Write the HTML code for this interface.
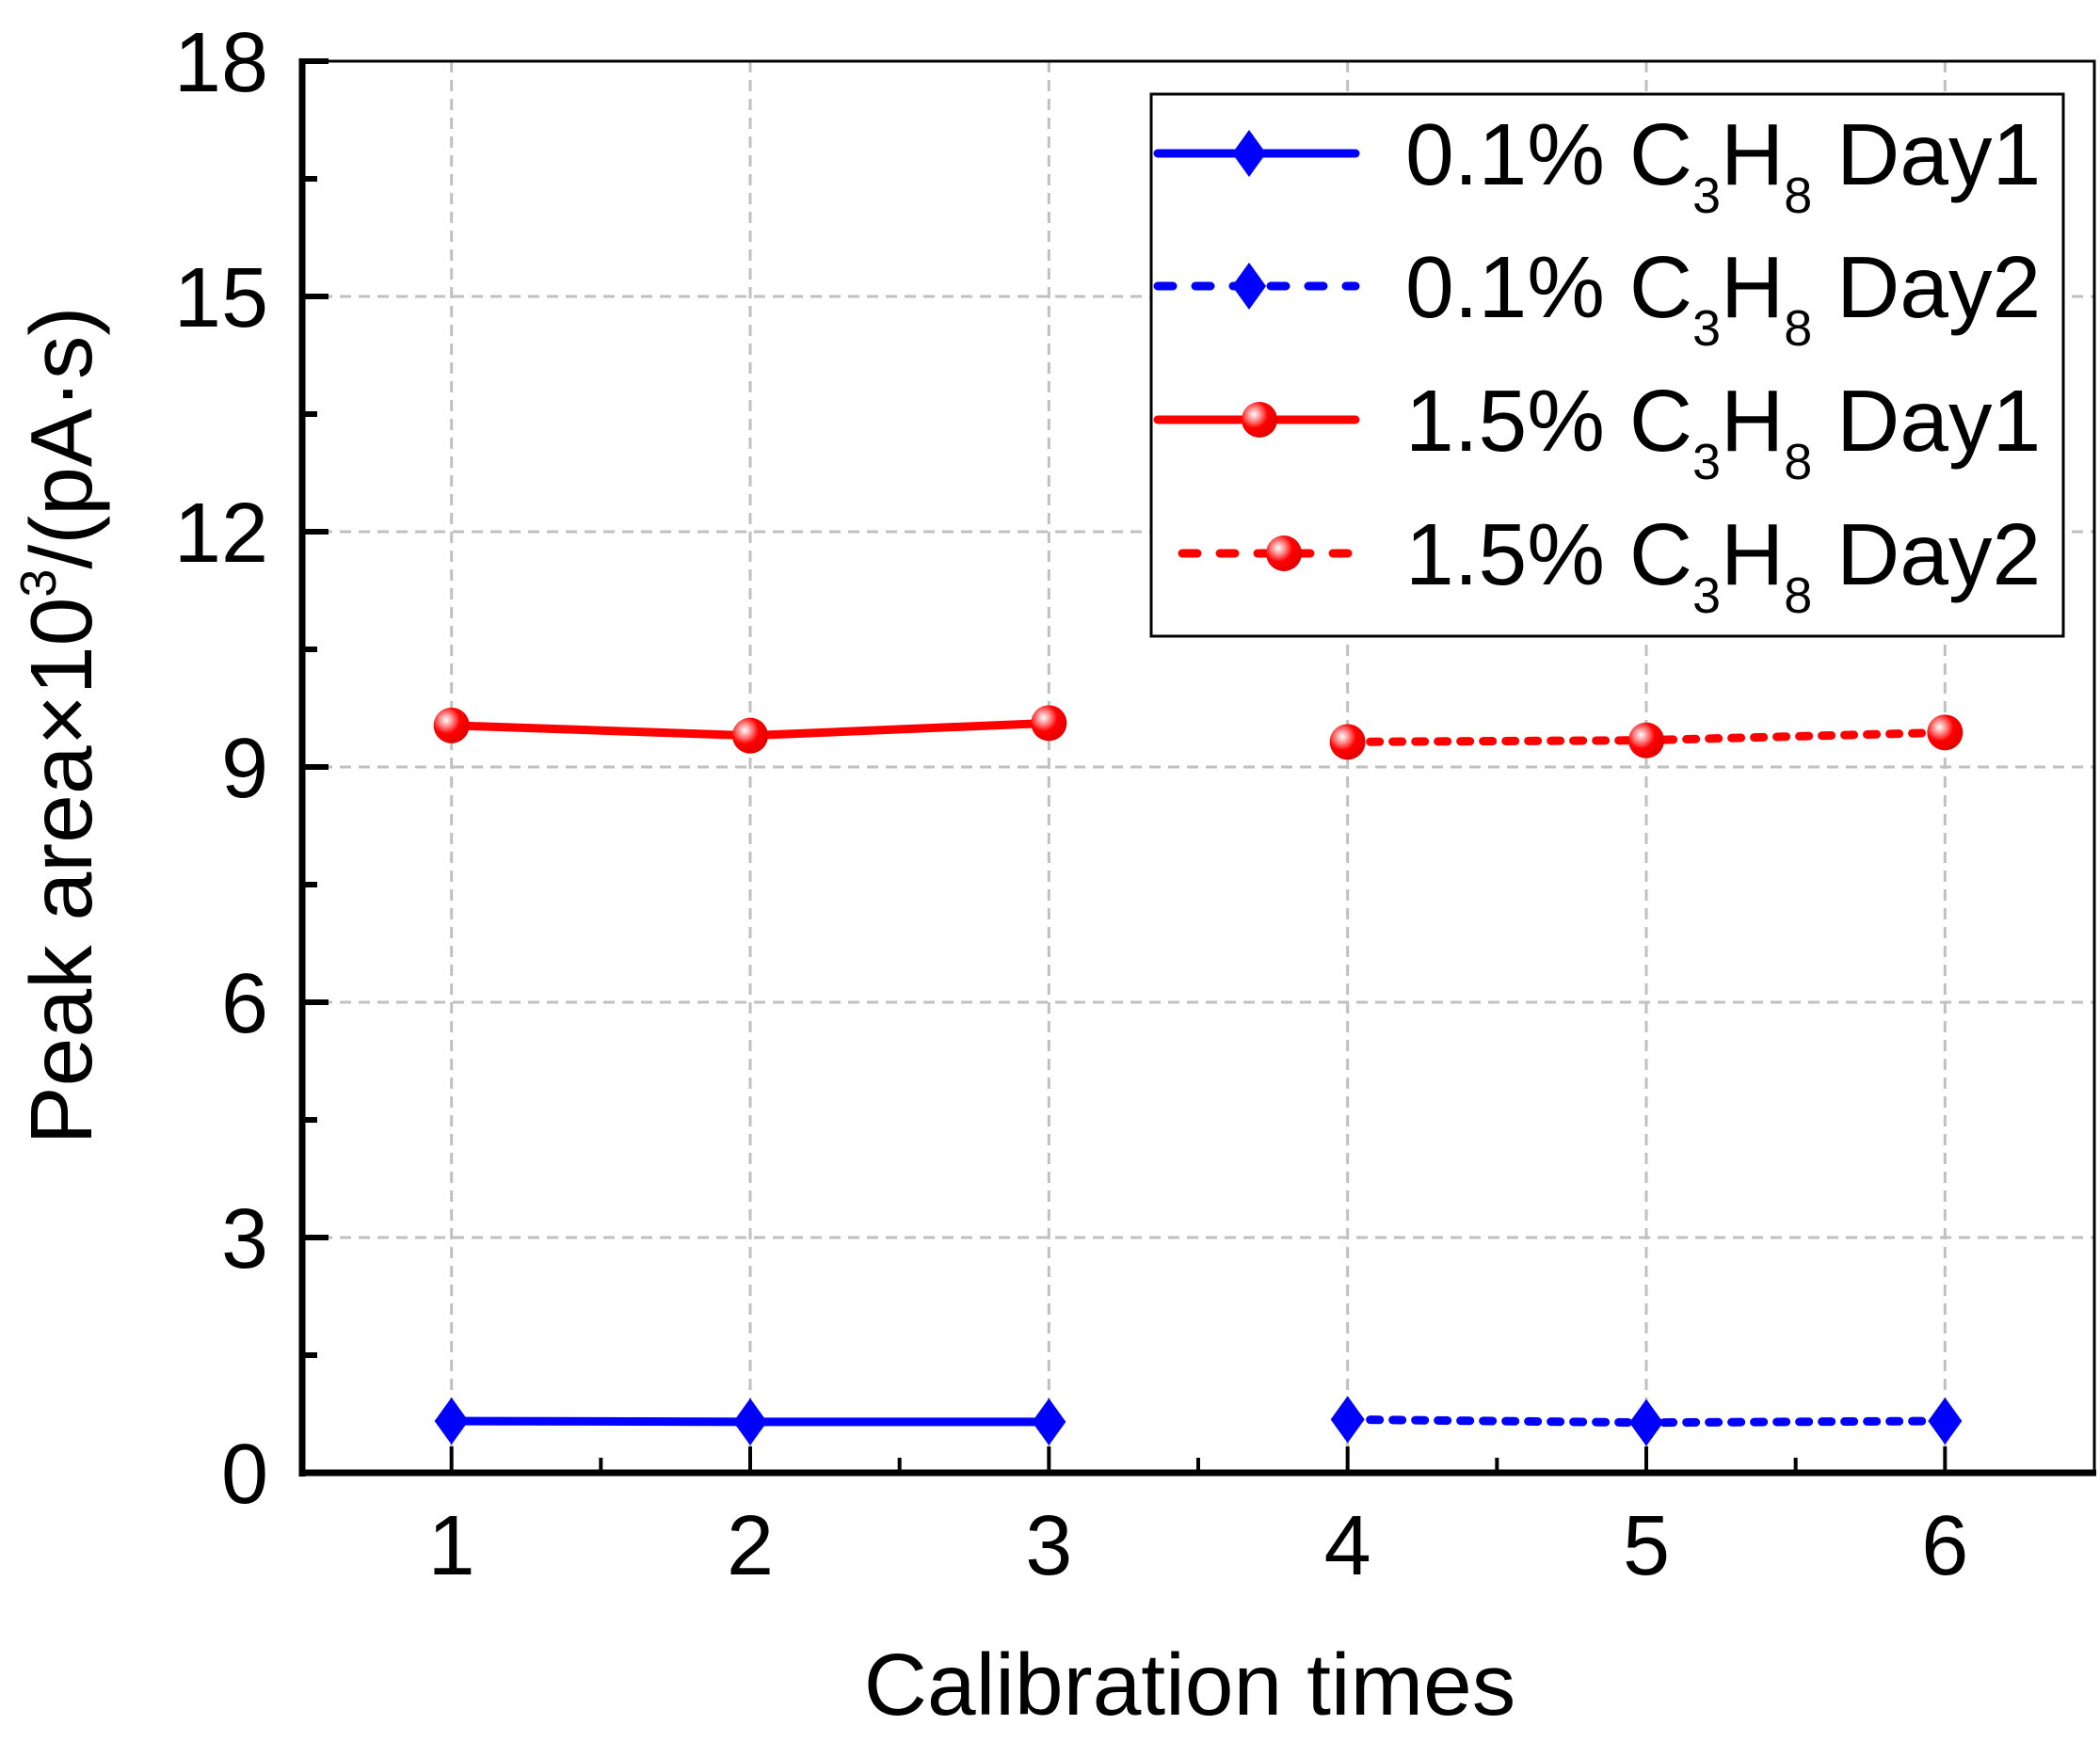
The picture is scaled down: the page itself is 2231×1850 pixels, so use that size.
<!DOCTYPE html>
<html><head><meta charset="utf-8"><style>
html,body{margin:0;padding:0;background:#fff}
svg{display:block}
text{font-family:"Liberation Sans",Arial,sans-serif;fill:#000}
</style></head><body>
<svg id="chart" width="2231" height="1850" viewBox="0 0 2231 1850" xmlns="http://www.w3.org/2000/svg">
<defs>
<radialGradient id="ball" cx="0.35" cy="0.35" r="0.7">
<stop offset="0" stop-color="#fff"/><stop offset="0.25" stop-color="#ff9090"/><stop offset="0.55" stop-color="#ff0000"/><stop offset="1" stop-color="#e00000"/>
</radialGradient>
</defs>
<g id="grid"></g>
<g id="axes"></g>
<g id="series"></g>
<g id="legend"></g>
</svg>
<script>
const categories = [1, 2, 3, 4, 5, 6];
const xTicks = ["1", "2", "3", "4", "5", "6"];
const yTicks = [0, 3, 6, 9, 12, 15, 18];
const low1X = [1, 2, 3];
const low1Y = [0.66, 0.65, 0.65];
const low2X = [4, 5, 6];
const low2Y = [0.68, 0.64, 0.66];
const high1X = [1, 2, 3];
const high1Y = [9.53, 9.40, 9.56];
const high2X = [4, 5, 6];
const high2Y = [9.32, 9.34, 9.44];

const NS = "http://www.w3.org/2000/svg";
const L = 321, R = 2225, T = 65, B = 1565;
const xMin = 0.5, xMax = 6.5, yMin = 0, yMax = 18;
function sx(v){ return L + (v - xMin) / (xMax - xMin) * (R - L); }
function sy(v){ return B - (v - yMin) / (yMax - yMin) * (B - T); }
function mk(tag, attrs, parent){
  const e = document.createElementNS(NS, tag);
  for (const k in attrs) e.setAttribute(k, attrs[k]);
  parent.appendChild(e);
  return e;
}
const grid = document.getElementById('grid');
const axes = document.getElementById('axes');
const series = document.getElementById('series');
const legend = document.getElementById('legend');

categories.forEach(c => {
  const g = mk('line', {x1:sx(c), x2:sx(c), y1:T, y2:B, stroke:'#c0c0c0', 'stroke-width':3, 'stroke-dasharray':'12 8'}, grid);
  
  
});
yTicks.forEach(v => {
  if (v === 0 || v === 18) return;
  const g = mk('line', {x1:L, x2:R, y1:sy(v), y2:sy(v), stroke:'#c0c0c0', 'stroke-width':3, 'stroke-dasharray':'12 8'}, grid);
  
  
});

const frame = mk('path', {d:`M${L},${T} H${R} V${B}`, fill:'none', stroke:'#000', 'stroke-width':3}, axes);


const yAxis = mk('line', {x1:L, x2:L, y1:T-3, y2:B+4, stroke:'#000', 'stroke-width':7}, axes);


const xAxis = mk('line', {x1:L-3, x2:R+2, y1:B, y2:B, stroke:'#000', 'stroke-width':7}, axes);



yTicks.forEach((v, i) => {
  const t = mk('line', {x1:L, x2:L+28, y1:sy(v), y2:sy(v), stroke:'#000', 'stroke-width':6}, axes);
  
  
  if (i < yTicks.length - 1) {
    const m = sy(v + 1.5);
    const mt = mk('line', {x1:L, x2:L+16, y1:m, y2:m, stroke:'#000', 'stroke-width':6}, axes);
    
    
  }
  const lb = mk('text', {x:285, y:sy(v)+32, 'font-size':90, 'text-anchor':'end'}, axes);
  lb.textContent = String(v);
  
  
});
categories.forEach((c, i) => {
  const t = mk('line', {x1:sx(c), x2:sx(c), y1:B, y2:B-28, stroke:'#000', 'stroke-width':4}, axes);
  
  
  if (i < categories.length - 1) {
    const mt = mk('line', {x1:sx(c+0.5), x2:sx(c+0.5), y1:B, y2:B-16, stroke:'#000', 'stroke-width':4}, axes);
    
    
  }
  const lb = mk('text', {x:sx(c), y:1673, 'font-size':90, 'text-anchor':'middle'}, axes);
  lb.textContent = xTicks[i];
  
  
});
const xt = mk('text', {x:1264, y:1822, 'font-size':93, 'text-anchor':'middle'}, axes);
xt.textContent = 'Calibration times';


const yt = mk('text', {x:0, y:0, 'font-size':93, 'text-anchor':'middle', transform:'translate(97,771) rotate(-90)'}, axes);
yt.innerHTML = 'Peak area×10<tspan font-size="54" dy="-38">3</tspan><tspan dy="38">/(pA·s)</tspan>';



function diamond(x, y, parent, name){
  const d = mk('path', {d:`M${x},${y-25} L${x+18},${y} L${x},${y+25} L${x-18},${y} Z`, fill:'#0000ff'}, parent);
  
  
}
function ball(x, y, parent, name){
  const c = mk('ellipse', {cx:x, cy:y, rx:19, ry:19, fill:'url(#ball)'}, parent);
  
  
}
function drawSeries(xs, ys, color, dash, marker, name){
  const pts = xs.map((x, i) => `${sx(x)},${sy(ys[i])}`).join(' ');
  const attrs = {points:pts, fill:'none', stroke:color, 'stroke-width':9, 'stroke-linejoin':'round'};
  if (dash) { attrs['stroke-dasharray'] = '10 14'; attrs['stroke-linecap'] = 'round'; }
  const pl = mk('polyline', attrs, series);
  
  
  xs.forEach((x, i) => marker(sx(x), sy(ys[i]), series, name + '-point'));
}
drawSeries(low1X, low1Y, '#0000ff', false, diamond, 'low-day1');
drawSeries(low2X, low2Y, '#0000ff', true, diamond, 'low-day2');
drawSeries(high1X, high1Y, '#ff0000', false, ball, 'high-day1');
drawSeries(high2X, high2Y, '#ff0000', true, ball, 'high-day2');

const box = mk('rect', {x:1223, y:100, width:969, height:576, fill:'#fff', stroke:'#000', 'stroke-width':3}, legend);


const entries = [
  {pct:'0.1%', day:'Day1', color:'#0000ff', dash:false, m:diamond, y:163, x1:1230, mx:1327},
  {pct:'0.1%', day:'Day2', color:'#0000ff', dash:true, m:diamond, y:304, x1:1230, mx:1327},
  {pct:'1.5%', day:'Day1', color:'#ff0000', dash:false, m:ball, y:446, x1:1230, mx:1338},
  {pct:'1.5%', day:'Day2', color:'#ff0000', dash:true, m:ball, y:588, x1:1256, mx:1364}
];
entries.forEach(e => {
  const g = mk('g', {}, legend);
  
  
  const a = {x1:e.x1, x2:1440, y1:e.y, y2:e.y, stroke:e.color, 'stroke-width':9, 'stroke-linecap':'round'};
  if (e.dash) a['stroke-dasharray'] = '16 24';
  mk('line', a, g);
  e.m(e.mx, e.y, g, 'legend-marker');
  const t = mk('text', {x:1493, y:e.y+33, 'font-size':93}, g);
  t.innerHTML = e.pct + ' C<tspan font-size="54" dy="30">3</tspan><tspan dy="-30">H</tspan><tspan font-size="54" dy="30">8</tspan><tspan dy="-30"> ' + e.day + '</tspan>';
  
  
});
</script>
</body></html>
